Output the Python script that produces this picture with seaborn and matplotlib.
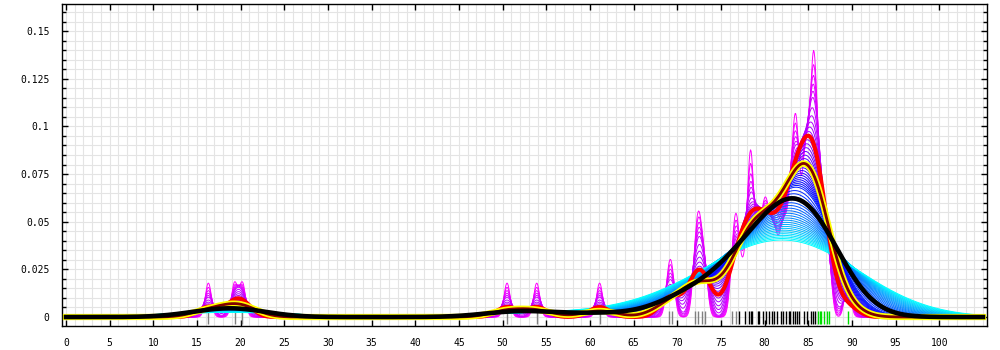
import numpy as np
import matplotlib
matplotlib.use("Agg")
import matplotlib.pyplot as plt
from matplotlib.ticker import MultipleLocator, FuncFormatter, FixedLocator
import seaborn as sns

# Observations (rug), grouped as coloured in the reference
low_values = [16.3, 19.3, 20.2, 50.5, 53.9, 61.1, 69.0, 69.4, 72.0, 72.4, 72.8, 73.2, 76.3, 76.7]
low_counts = [1, 1, 1, 1, 1, 1, 1, 1, 1, 2, 1, 1, 1, 2]
mid_values = [77.1, 77.7, 78.2, 78.4, 78.6, 79.2, 79.4, 79.8, 80.1, 80.5, 80.8, 81.1, 81.4, 81.9,
              82.1, 82.4, 82.8, 82.9, 83.3, 83.5, 83.7, 83.9, 84.5, 84.8, 85.3, 85.5, 85.8]
mid_counts = [1, 1, 1, 3, 1, 1, 1, 1, 2, 1, 1, 1, 1, 1, 1, 1, 1, 1, 2, 2, 1, 2, 2, 3, 1, 4, 3]
high_values = [86.1, 86.3, 86.5, 86.8, 87.1, 87.4, 89.5]
high_counts = [1, 1, 1, 1, 1, 1, 1]

# Kernel bandwidths of the curve family (narrow -> wide)
family_bandwidths = [0.35, 0.4, 0.45, 0.5, 0.55, 0.6, 0.7, 0.8, 0.9, 1.0, 1.1, 1.2, 1.3, 1.4, 1.5,
                     1.6, 1.7, 1.8, 1.9, 2.0, 2.1, 2.2, 2.3, 2.4, 2.5, 2.6, 2.7, 2.8, 2.9, 3.0,
                     3.2, 3.4, 3.6, 3.8, 4.0, 4.2, 4.4, 4.6, 4.8, 5.0, 5.2, 5.4, 5.6, 5.8, 6.0,
                     6.2, 6.4, 6.6, 6.8, 7.0, 7.2, 7.4, 7.6]
red_bandwidth = 1.2
yellow_bandwidth = 1.95
black_bandwidth = 3.7

x_ticks = list(range(0, 101, 5))
y_ticks = [0, 0.025, 0.05, 0.075, 0.1, 0.125, 0.15]

all_values = low_values + mid_values + high_values
all_counts = low_counts + mid_counts + high_counts
data = np.repeat(np.array(all_values), np.array(all_counts))
sd = np.std(data, ddof=1)

fig, ax = plt.subplots(figsize=(10, 3.5), dpi=100)
fig.subplots_adjust(left=0.062, right=0.987, bottom=0.0686, top=0.9886)

# rug
ax.vlines(low_values, -0.0035, 0.0033, colors="#808080", lw=1, zorder=1.5)
ax.vlines(mid_values, -0.0035, 0.0033, colors="#000000", lw=1, zorder=1.5)
ax.vlines(high_values, -0.0035, 0.0033, colors="#00dd00", lw=1, zorder=1.5)

n = len(family_bandwidths)
for i, h in enumerate(family_bandwidths):
    t = i / (n - 1)
    if t < 0.5:
        c = (1 - 2 * t, 0, 1)
    else:
        c = (0, 2 * t - 1, 1)
    sns.kdeplot(x=data, bw_method=h / sd, cut=300, clip=(0, 105), gridsize=1500,
                color=c, lw=0.7, ax=ax, zorder=2)

kw = dict(x=data, cut=300, clip=(0, 105), gridsize=1500, ax=ax)
sns.kdeplot(bw_method=red_bandwidth / sd, color="#ff0000", lw=3, zorder=3, **kw)
sns.kdeplot(bw_method=yellow_bandwidth / sd, color="#ffff00", lw=4.5, zorder=4, **kw)
sns.kdeplot(bw_method=yellow_bandwidth / sd, color="#800000", lw=2, zorder=4.1, **kw)
sns.kdeplot(bw_method=black_bandwidth / sd, color="#000000", lw=3.3, zorder=5, **kw)

ax.set_xlim(-0.46, 105.46)
ax.set_ylim(-0.0047, 0.1642)
ax.set_xlabel("")
ax.set_ylabel("")

ax.xaxis.set_major_locator(FixedLocator(x_ticks))
ax.xaxis.set_minor_locator(MultipleLocator(1))
ax.yaxis.set_major_locator(FixedLocator(y_ticks))
ax.yaxis.set_minor_locator(MultipleLocator(0.005))
ax.yaxis.set_major_formatter(FuncFormatter(lambda v, p: f"{v:g}"))
ax.xaxis.set_major_formatter(FuncFormatter(lambda v, p: f"{v:g}"))

ax.grid(which="both", color="#e4e4e4", lw=0.8)
ax.set_axisbelow(True)

ax.tick_params(axis="both", which="both", direction="in", top=True, right=True,
               labelsize=7, width=1, color="black")
ax.tick_params(axis="both", which="major", length=4.5, pad=9)
ax.tick_params(axis="y", which="minor", length=3)
ax.tick_params(axis="x", which="minor", length=0)
for lab in ax.get_xticklabels() + ax.get_yticklabels():
    lab.set_family("DejaVu Sans Mono")
for s in ax.spines.values():
    s.set_linewidth(1)
    s.set_color("black")

fig.savefig("out.png", dpi=100)
